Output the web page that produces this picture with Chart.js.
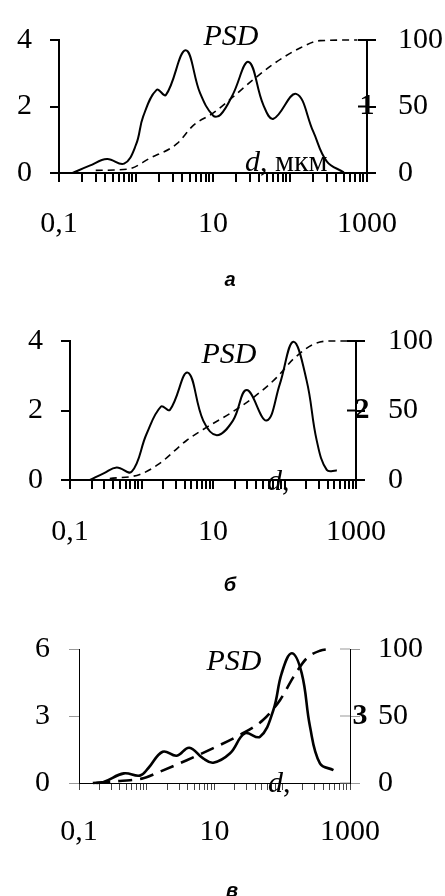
<!DOCTYPE html>
<html>
<head>
<meta charset="utf-8">
<script src="https://cdn.jsdelivr.net/npm/chart.js@4.4.0/dist/chart.umd.min.js"></script>
<style>
  body { margin: 0; background: #fff; width: 445px; height: 896px; overflow: hidden; }
  canvas { position: absolute; left: 0; }
</style>
</head>
<body>
<canvas id="chartA" width="445" height="300" style="top:0"></canvas>
<canvas id="chartB" width="445" height="300" style="top:300px"></canvas>
<canvas id="chartC" width="445" height="296" style="top:600px"></canvas>
<script>
// particle size axis, mkm: ticks 1..9 in every decade
const dTicks = [0.1, 0.2, 0.3, 0.4, 0.5, 0.6, 0.7, 0.8, 0.9,
                1, 2, 3, 4, 5, 6, 7, 8, 9,
                10, 20, 30, 40, 50, 60, 70, 80, 90,
                100, 200, 300, 400, 500, 600, 700, 800, 900, 1000];
const dLabels = { 0.1: '0,1', 10: '10', 1000: '1000' };
const cumTicks = [0, 50, 100];

// sample 1
const psdD1 = [0.15, 0.25, 0.42, 0.7, 1.0, 1.24, 1.85, 2.45, 4.4, 6.8, 10, 12.5, 18, 29, 45, 61, 120, 200, 300, 500];
const psd1  = [0, 0.22, 0.42, 0.28, 0.85, 1.7, 2.5, 2.35, 3.69, 2.4, 1.73, 1.75, 2.35, 3.34, 2.05, 1.63, 2.38, 1.25, 0.35, 0.02];
const cumD1 = [0.3, 0.8, 1.5, 3.4, 5.6, 10, 18, 33, 61, 135, 245, 750];
const cum1  = [2, 3, 11, 22, 36, 45, 57, 70, 82, 94, 99.5, 100];

// sample 2
const psdD2 = [0.19, 0.3, 0.45, 0.73, 1.18, 1.87, 2.5, 4.43, 7.3, 11.3, 19, 29.6, 56, 86, 133, 204, 282, 390, 540];
const psd2  = [0, 0.2, 0.36, 0.24, 1.33, 2.11, 2.02, 3.09, 1.71, 1.29, 1.71, 2.59, 1.71, 2.76, 3.98, 2.86, 1.14, 0.29, 0.27];
const cumD2 = [0.36, 0.95, 1.8, 4.3, 8.2, 17, 37, 78, 133, 253, 430, 900];
const cum2  = [1, 4, 12, 28.6, 38, 47.6, 59.5, 73.8, 87, 97.6, 100, 100];

// sample 3
const psdD3 = [0.16, 0.23, 0.46, 0.79, 1.05, 1.72, 2.77, 4.25, 6.8, 9.6, 17, 28, 47, 74, 98, 138, 194, 257, 360, 570];
const psd3  = [0, 0.05, 0.43, 0.33, 0.66, 1.4, 1.22, 1.58, 1.1, 0.91, 1.33, 2.22, 2.07, 3.27, 4.91, 5.81, 4.91, 2.52, 0.88, 0.58];
const cumD3 = [0.18, 0.4, 0.89, 1.57, 3.9, 9.6, 24, 52, 93, 146, 229, 360, 510];
const cum3  = [0, 1.5, 3.5, 8.5, 17, 26, 36, 47, 62, 79, 93, 98.7, 100];

const serif = 'Liberation Serif';

function pairs(xs, ys) {
  return xs.map((x, i) => ({ x: x, y: ys[i] }));
}

function notesPlugin(p) {
  return {
    id: 'notes',
    afterDraw(chart) {
      const c = chart.ctx;
      const area = chart.chartArea;
      const y2 = chart.scales.y2;
      c.save();
      c.fillStyle = '#000';

      // ticks on the right axis cross it
      c.strokeStyle = p.yTickColor;
      c.lineWidth = p.axisW;
      cumTicks.forEach(v => {
        const py = y2.getPixelForValue(v);
        c.beginPath();
        c.moveTo(area.right - p.ytl, py);
        c.lineTo(area.right, py);
        c.stroke();
      });

      c.textBaseline = 'middle';
      c.textAlign = 'center';
      c.font = 'italic 30px ' + serif;
      c.fillText('PSD', p.psdX, p.psdY);

      c.textBaseline = 'alphabetic';
      c.textAlign = 'left';
      c.fillText('d', p.dX, p.dY);
      const w = c.measureText('d').width;
      c.font = '30px ' + serif;
      c.fillText(p.dRest, p.dX + w, p.dY);

      c.textAlign = 'center';
      c.textBaseline = 'middle';
      c.font = 'bold 30px ' + serif;
      c.fillText(p.num, area.right + p.numDx, y2.getPixelForValue(50));

      c.font = 'italic bold 20px "Liberation Sans"';
      c.fillText(p.letter, p.letterX, p.letterY);
      c.restore();
    }
  };
}

function buildPanel(id, p) {
  const tickFont = { family: serif, size: 30 };
  new Chart(document.getElementById(id), {
    type: 'line',
    data: {
      datasets: [{
        data: pairs(p.psdD, p.psd),
        yAxisID: 'y',
        borderColor: '#000',
        borderWidth: p.lw,
        pointRadius: 0,
        tension: 0.4,
        fill: false,
        clip: false
      }, {
        data: pairs(p.cumD, p.cum),
        yAxisID: 'y2',
        borderColor: '#000',
        borderWidth: p.dw,
        borderDash: p.dash,
        pointRadius: 0,
        cubicInterpolationMode: 'monotone',
        fill: false,
        clip: false
      }]
    },
    options: {
      responsive: false,
      animation: false,
      layout: { padding: { top: p.top, left: 0, right: 0, bottom: 0 } },
      plugins: { legend: { display: false }, tooltip: { enabled: false } },
      scales: {
        x: {
          type: 'logarithmic',
          min: 0.1,
          max: 1000,
          afterBuildTicks: s => { s.ticks = dTicks.map(v => ({ value: v })); },
          afterFit: s => { s.height = p.h - p.bottom; },
          grid: { drawOnChartArea: false, tickLength: p.xtl, color: p.xTickColor, lineWidth: p.axisW },
          border: { color: '#000', width: p.axisW },
          ticks: {
            autoSkip: false, maxRotation: 0, padding: p.xpad,
            font: tickFont, color: '#000',
            callback: v => dLabels[v] || ''
          }
        },
        y: {
          position: 'left',
          min: 0,
          max: p.yTicks[p.yTicks.length - 1],
          afterBuildTicks: s => { s.ticks = p.yTicks.map(v => ({ value: v })); },
          afterFit: s => { s.width = p.left; },
          grid: { drawOnChartArea: false, tickLength: p.ytl, color: p.yTickColor, lineWidth: p.axisW },
          border: { color: '#000', width: p.axisW },
          ticks: { padding: p.ypad, font: tickFont, color: '#000' }
        },
        y2: {
          position: 'right',
          min: 0,
          max: 100,
          afterBuildTicks: s => { s.ticks = cumTicks.map(v => ({ value: v })); },
          afterFit: s => { s.width = 445 - p.right; },
          grid: { drawOnChartArea: false, tickLength: p.ytl, color: p.yTickColor, lineWidth: p.axisW },
          border: { color: '#000', width: p.axisW },
          ticks: { padding: p.y2pad, font: tickFont, color: '#000' }
        }
      }
    },
    plugins: [notesPlugin(p)]
  });
}

buildPanel('chartA', {
  psdD: psdD1, psd: psd1, cumD: cumD1, cum: cum1, yTicks: [0, 2, 4],
  h: 300, top: 25, bottom: 173, left: 59, right: 367,
  lw: 2, dw: 1.6, dash: [7, 5], axisW: 2, xtl: 9, ytl: 9, xpad: 24, ypad: 18, y2pad: 22,
  xTickColor: '#000', yTickColor: '#000',
  psdX: 231, psdY: 37, dX: 245, dY: 171, dRest: ', мкм',
  num: '1', numDx: 0, letter: 'а', letterX: 230, letterY: 280
});

buildPanel('chartB', {
  psdD: psdD2, psd: psd2, cumD: cumD2, cum: cum2, yTicks: [0, 2, 4],
  h: 300, top: 40, bottom: 180, left: 70, right: 356,
  lw: 2, dw: 1.6, dash: [7, 5], axisW: 2, xtl: 9, ytl: 9, xpad: 25, ypad: 18, y2pad: 23,
  xTickColor: '#000', yTickColor: '#000',
  psdX: 229, psdY: 55, dX: 267, dY: 190, dRest: ',',
  num: '2', numDx: 6, letter: 'б', letterX: 230, letterY: 285
});

buildPanel('chartC', {
  psdD: psdD3, psd: psd3, cumD: cumD3, cum: cum3, yTicks: [0, 3, 6],
  h: 296, top: 49, bottom: 183, left: 79, right: 350,
  lw: 2.6, dw: 2.6, dash: [14, 8], axisW: 1, xtl: 7, ytl: 10, xpad: 24, ypad: 19, y2pad: 18,
  xTickColor: '#444', yTickColor: '#999',
  psdX: 234, psdY: 62, dX: 268, dY: 192, dRest: ',',
  num: '3', numDx: 10, letter: 'в', letterX: 232, letterY: 291
});
</script>
</body>
</html>
